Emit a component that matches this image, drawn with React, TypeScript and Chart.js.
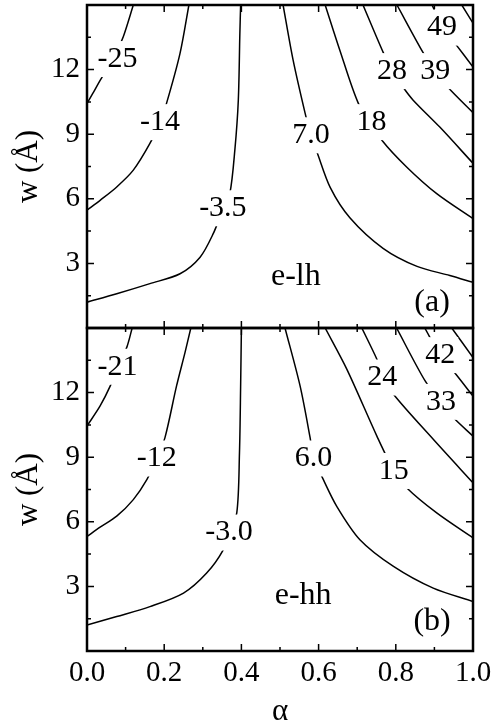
import { useEffect, useRef } from 'react';
import { Chart, registerables } from 'chart.js';

Chart.register(...registerables);

const SERIF = "'Liberation Serif', 'Times New Roman', Times, serif";

// α axis ticks
const alphaMajor = [0, 0.2, 0.4, 0.6, 0.8, 1.0];
const alphaMinor = [0.1, 0.3, 0.5, 0.7, 0.9];
// w axis ticks (Å)
const wMajor = [3, 6, 9, 12];
const wMinor = [1.5, 4.5, 7.5, 10.5, 13.5];

// (a) e-lh contour lines
const lhM25Alpha = [0, 0.017, 0.034, 0.07, 0.094, 0.12];
const lhM25W = [10.43, 10.95, 11.5, 12.58, 13.53, 15];
const lhM14Alpha = [0, 0.034, 0.077, 0.12, 0.163, 0.189, 0.206, 0.241, 0.264];
const lhM14W = [5.47, 5.93, 6.55, 7.33, 8.57, 9.56, 10.43, 12.75, 15];
const lhM35Alpha = [0, 0.077, 0.163, 0.241, 0.293, 0.327, 0.352, 0.37, 0.383, 0.392, 0.396, 0.398];
const lhM35W = [1.2, 1.59, 2.06, 2.52, 3.29, 4.38, 5.5, 6.24, 8.26, 10.58, 13.68, 15];
const lh7Alpha = [0.508, 0.534, 0.565, 0.58, 0.596, 0.63, 0.681, 0.767, 0.855, 0.94, 1.0];
const lh7W = [15, 12.44, 9.98, 8.95, 8.16, 6.53, 5.12, 3.7, 2.86, 2.44, 2.12];
const lh18Alpha = [0.617, 0.655, 0.703, 0.737, 0.764, 0.828, 0.906, 1.0];
const lh18W = [15, 12.9, 10.43, 9.56, 8.72, 7.48, 6.24, 5.08];
const lh28Alpha = [0.715, 0.767, 0.79, 0.819, 0.845, 0.914, 1.0];
const lh28W = [15, 12.81, 11.98, 11.18, 10.58, 9.33, 7.65];
const lh39Alpha = [0.803, 0.87, 0.9, 0.935, 1.0];
const lh39W = [15, 12.81, 11.98, 11.18, 10.0];
const lh49Alpha = [0.894, 0.92, 0.953, 1.0];
const lh49W = [15, 13.98, 13.23, 12.12];
const lhTopAlpha = [0.971, 1.0];
const lhTopW = [15, 14.16];

const lhLabelText = ['-25', '-14', '-3.5', '7.0', '18', '28', '39', '49'];
const lhLabelAlpha = [0.079, 0.189, 0.352, 0.58, 0.737, 0.79, 0.902, 0.92];
const lhLabelW = [12.49, 9.56, 5.56, 8.95, 9.56, 11.93, 11.93, 13.95];

// (b) e-hh contour lines
const hhM21Alpha = [0, 0.034, 0.06, 0.08, 0.103, 0.117];
const hhM21W = [10.45, 11.38, 12.3, 13.2, 14.1, 15];
const hhM12Alpha = [0, 0.034, 0.077, 0.12, 0.155, 0.181, 0.202, 0.232, 0.254, 0.269];
const hhM12W = [5.32, 5.75, 6.26, 7.03, 7.96, 8.94, 9.91, 12.31, 13.87, 15];
const hhM3Alpha = [0, 0.077, 0.163, 0.25, 0.31, 0.353, 0.368, 0.388, 0.395, 0.398, 0.4];
const hhM3W = [1.21, 1.6, 2.06, 2.69, 3.62, 4.7, 5.5, 6.41, 9.2, 12.3, 15];
const hh6Alpha = [0.513, 0.552, 0.578, 0.587, 0.608, 0.647, 0.707, 0.794, 0.897, 1.0];
const hh6W = [15, 12.31, 9.91, 8.94, 8.12, 6.72, 5.17, 3.93, 2.92, 2.3];
const hh15Alpha = [0.617, 0.673, 0.751, 0.795, 0.828, 0.906, 1.0];
const hh15W = [15, 13.09, 9.98, 8.38, 7.58, 6.41, 5.25];
const hh24Alpha = [0.712, 0.751, 0.77, 0.794, 0.897, 1.0];
const hh24W = [15, 13.55, 12.7, 11.92, 9.83, 7.81];
const hh33Alpha = [0.802, 0.876, 0.917, 0.949, 1.0];
const hh33W = [15, 12.54, 11.57, 10.84, 9.98];
const hh42Alpha = [0.875, 0.915, 0.949, 1.0];
const hh42W = [15, 13.74, 13.0, 11.84];
const hhTopAlpha = [0.945, 1.0];
const hhTopW = [15, 13.63];

const hhLabelText = ['-21', '-12', '-3.0', '6.0', '15', '24', '33', '42'];
const hhLabelAlpha = [0.079, 0.181, 0.368, 0.587, 0.795, 0.765, 0.917, 0.915];
const hhLabelW = [13.2, 8.94, 5.5, 8.94, 8.36, 12.7, 11.57, 13.74];

// panel captions
const captionText = [['e-lh', '(a)'], ['e-hh', '(b)']];
const captionAlpha = [[0.541, 0.894], [0.56, 0.894]];
const captionW = [[2.4, 1.19], [2.56, 1.35]];

type Curve = { alpha: number[]; w: number[] };

// yTop holds panel (a), yBottom holds panel (b)
const panels = [
  {
    axis: 'yTop',
    curves: [
      { alpha: lhM25Alpha, w: lhM25W },
      { alpha: lhM14Alpha, w: lhM14W },
      { alpha: lhM35Alpha, w: lhM35W },
      { alpha: lh7Alpha, w: lh7W },
      { alpha: lh18Alpha, w: lh18W },
      { alpha: lh28Alpha, w: lh28W },
      { alpha: lh39Alpha, w: lh39W },
      { alpha: lh49Alpha, w: lh49W },
      { alpha: lhTopAlpha, w: lhTopW },
    ] as Curve[],
    labelText: lhLabelText,
    labelAlpha: lhLabelAlpha,
    labelW: lhLabelW,
  },
  {
    axis: 'yBottom',
    curves: [
      { alpha: hhM21Alpha, w: hhM21W },
      { alpha: hhM12Alpha, w: hhM12W },
      { alpha: hhM3Alpha, w: hhM3W },
      { alpha: hh6Alpha, w: hh6W },
      { alpha: hh15Alpha, w: hh15W },
      { alpha: hh24Alpha, w: hh24W },
      { alpha: hh33Alpha, w: hh33W },
      { alpha: hh42Alpha, w: hh42W },
      { alpha: hhTopAlpha, w: hhTopW },
    ] as Curve[],
    labelText: hhLabelText,
    labelAlpha: hhLabelAlpha,
    labelW: hhLabelW,
  },
];

const contourLabels = {
  id: 'contourLabels',
  afterDatasetsDraw(chart: any) {
    const { ctx } = chart;
    const x = chart.scales.x;
    ctx.save();
    ctx.textAlign = 'center';
    ctx.textBaseline = 'middle';
    panels.forEach((p, pi) => {
      const y = chart.scales[p.axis];
      ctx.font = `30px ${SERIF}`;
      p.labelText.forEach((t, i) => {
        const px = x.getPixelForValue(p.labelAlpha[i]);
        const py = y.getPixelForValue(p.labelW[i]);
        const tw = ctx.measureText(t).width;
        ctx.fillStyle = '#fff';
        ctx.fillRect(px - tw / 2 - 3, py - 18, tw + 6, 36);
        ctx.fillStyle = '#000';
        ctx.fillText(t, px, py);
      });
      ctx.font = `32px ${SERIF}`;
      captionText[pi].forEach((t, i) => {
        ctx.fillText(t, x.getPixelForValue(captionAlpha[pi][i]), y.getPixelForValue(captionW[pi][i]));
      });
    });
    ctx.restore();
  },
};

const panelFrames = {
  id: 'panelFrames',
  afterDraw(chart: any) {
    const { ctx, chartArea } = chart;
    const x = chart.scales.x;
    const left = chartArea.left;
    const right = chartArea.right;
    ctx.save();
    ctx.strokeStyle = '#000';
    panels.forEach((p) => {
      const y = chart.scales[p.axis];
      const top = y.top;
      const bottom = y.bottom;
      ctx.lineWidth = 1.5;
      ctx.beginPath();
      const xTick = (v: number, len: number) => {
        const px = x.getPixelForValue(v);
        ctx.moveTo(px, bottom);
        ctx.lineTo(px, bottom - len);
        ctx.moveTo(px, top);
        ctx.lineTo(px, top + len);
      };
      const yTick = (v: number, len: number) => {
        const py = y.getPixelForValue(v);
        ctx.moveTo(left, py);
        ctx.lineTo(left + len, py);
        ctx.moveTo(right, py);
        ctx.lineTo(right - len, py);
      };
      alphaMajor.forEach((v) => xTick(v, 7));
      alphaMinor.forEach((v) => xTick(v, 4));
      wMajor.forEach((v) => yTick(v, 7));
      wMinor.forEach((v) => yTick(v, 4));
      ctx.stroke();
      ctx.lineWidth = 2.5;
      ctx.strokeRect(left, top, right - left, bottom - top);
    });
    ctx.restore();
  },
};

const wScale = () => ({
  type: 'linear',
  position: 'left',
  stack: 'panels',
  stackWeight: 1,
  min: 0,
  max: 15,
  afterBuildTicks: (s: any) => {
    s.ticks = wMajor.map((v) => ({ value: v }));
  },
  afterFit: (s: any) => {
    s.width = 87;
    s.paddingTop = 0;
    s.paddingBottom = 0;
  },
  grid: { display: false, drawTicks: false },
  border: { display: false },
  ticks: {
    font: { family: SERIF, size: 29 },
    color: '#000',
    padding: 7,
    callback: (v: any) => String(v),
  },
  title: {
    display: true,
    text: 'w (Å)',
    font: { family: SERIF, size: 31 },
    color: '#000',
    padding: { top: 10, bottom: 0 },
  },
});

export default function App() {
  const canvasRef = useRef<HTMLCanvasElement | null>(null);

  useEffect(() => {
    if (!canvasRef.current) return;
    const datasets: any[] = [];
    panels.forEach((p) => {
      p.curves.forEach((c) => {
        datasets.push({
          data: c.alpha.map((a, i) => ({ x: a, y: c.w[i] })),
          yAxisID: p.axis,
          showLine: true,
          borderColor: '#000',
          borderWidth: 1.5,
          pointRadius: 0,
          tension: 0.3,
          fill: false,
        });
      });
    });

    const chart = new Chart(canvasRef.current, {
      type: 'scatter',
      data: { datasets },
      options: {
        animation: false,
        responsive: true,
        maintainAspectRatio: false,
        events: [],
        layout: { padding: { top: 5, right: 21, left: 0, bottom: 0 } },
        plugins: { legend: { display: false }, tooltip: { enabled: false } },
        scales: {
          x: {
            type: 'linear',
            min: 0,
            max: 1,
            afterBuildTicks: (s: any) => {
              s.ticks = alphaMajor.map((v) => ({ value: v }));
            },
            afterFit: (s: any) => {
              s.height = 76;
              s.paddingLeft = 0;
              s.paddingRight = 0;
            },
            grid: { display: false, drawTicks: false },
            border: { display: false },
            ticks: {
              font: { family: SERIF, size: 29 },
              color: '#000',
              padding: 5,
              maxRotation: 0,
              callback: (v: any) => Number(v).toFixed(1),
            },
            title: {
              display: true,
              text: 'α',
              font: { family: SERIF, size: 31 },
              color: '#000',
              padding: { top: 0, bottom: -3 },
            },
          },
          // stacked left axes: the one listed later is placed on top
          yBottom: wScale(),
          yTop: wScale(),
        } as any,
      },
      plugins: [contourLabels, panelFrames],
    });
    return () => chart.destroy();
  }, []);

  return (
    <div style={{ position: 'absolute', left: 0, top: 0, width: 494, height: 727, background: '#fff' }}>
      <canvas ref={canvasRef} />
    </div>
  );
}
